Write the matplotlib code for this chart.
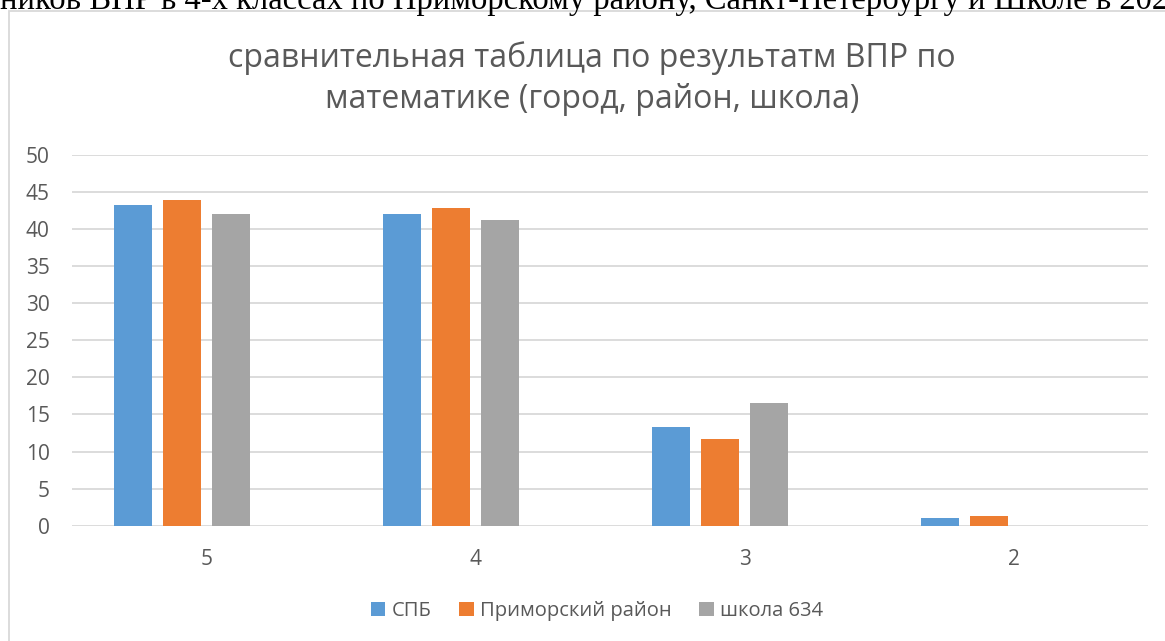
import numpy as np
from matplotlib import pyplot as plt
from matplotlib.patches import Rectangle

plt.rcParams['font.family'] = ['Open Sans', 'DejaVu Sans']

categories = ["5", "4", "3", "2"]
spb = [43.3, 42.1, 13.3, 1.1]
primorsky = [43.9, 42.9, 11.7, 1.3]
school = [42.1, 41.3, 16.5, 0]
series_names = ["СПБ", "Приморский район", "школа 634"]
colors = ["#5B9BD5", "#ED7D31", "#A5A5A5"]

fig = plt.figure(figsize=(11.65, 6.41), dpi=100)

# page text above the chart box (cut off in the original screenshot)
fig.text(0.0, 1 - 9/641, "ников ВПР в 4-х классах по Приморскому району, Санкт-Петербургу и Школе в 2022",
         family=['Liberation Serif', 'DejaVu Serif'], fontsize=23.5, color="black",
         ha="left", va="baseline")

# chart border
fig.patches.append(Rectangle((8.5/1165, -0.1), 1.2, 1 - 11/641 + 0.1, transform=fig.transFigure,
                             fill=False, edgecolor="#D9D9D9", linewidth=1.3))

ax = fig.add_axes([72/1165, 1 - 525.7/641, (1148 - 72)/1165, (525.7 - 155)/641])

x = np.arange(len(categories))
w = 38/269
step = 49/269
offsets = np.array([-1.5, -0.5, 0.5])*step  # 4th slot is an empty series
for vals, name, c, off in zip([spb, primorsky, school], series_names, colors, offsets):
    ax.bar(x + off, vals, width=w, color=c, label=name, zorder=3)

ax.set_xlim(-0.5, 3.5)
ax.set_ylim(0, 50)
ax.set_yticks(np.arange(0, 51, 5))
ax.set_xticks(x)
ax.set_xticklabels(categories)
ax.grid(axis="y", color="#D9D9D9", linewidth=1.3, zorder=0)
for s in ax.spines.values():
    s.set_visible(False)
ax.tick_params(length=0, labelsize=15, colors="#595959")
ax.tick_params(axis="y", pad=16)
ax.tick_params(axis="x", pad=17)

fig.text(592/1165, 1 - 58/641, "сравнительная таблица по результатм ВПР по", ha="center", va="center",
         fontsize=23, color="#595959")
fig.text(592/1165, 1 - 100/641, "математике (город, район, школа)", ha="center", va="center",
         fontsize=23, color="#595959")

fig.legend(loc="center", bbox_to_anchor=(597/1165, 1 - 611/641), ncol=3, frameon=False,
           fontsize=14.5, labelcolor="#595959", handlelength=0.7, handleheight=0.7,
           handletextpad=0.3, columnspacing=1.4)

fig.savefig("out.png", dpi=100)
